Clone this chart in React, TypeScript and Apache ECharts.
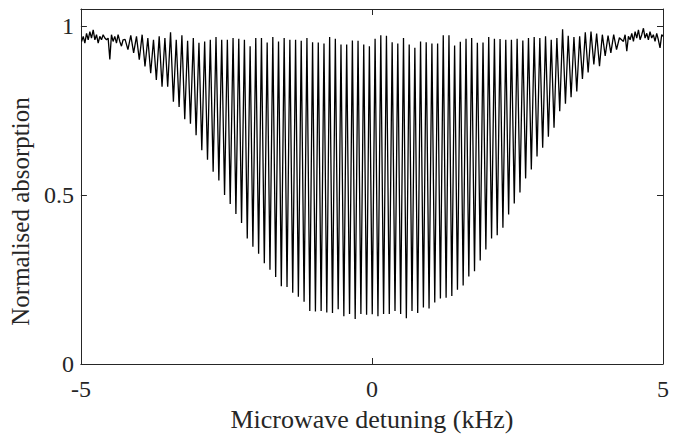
import React, { useEffect, useRef } from "react";
import * as echarts from "echarts";

// Axis ticks
const xTicks = [-5, 0, 5];
const yTicks = [0, 0.5, 1];

// Noisy baseline left of the comb (kHz, normalised absorption)
const noiseLeftX = [-4.988, -4.96, -4.932, -4.903, -4.875, -4.846, -4.818, -4.789, -4.76, -4.732, -4.703, -4.675, -4.646, -4.618, -4.589, -4.56, -4.532, -4.503, -4.475, -4.447, -4.418, -4.389, -4.361, -4.332, -4.303, -4.275];
const noiseLeftY = [0.954, 0.969, 0.949, 0.978, 0.959, 0.983, 0.964, 0.988, 0.959, 0.974, 0.949, 0.969, 0.959, 0.974, 0.964, 0.959, 0.964, 0.901, 0.974, 0.954, 0.969, 0.949, 0.974, 0.954, 0.94, 0.959];

// Comb maxima (between dips)
const peakX = [-4.241, -4.143, -4.045, -3.948, -3.85, -3.753, -3.655, -3.557, -3.46, -3.362, -3.265, -3.167, -3.069, -2.972, -2.874, -2.777, -2.679, -2.581, -2.484, -2.386, -2.288, -2.191, -2.093, -1.996, -1.898, -1.8, -1.703, -1.605, -1.508, -1.41, -1.312, -1.215, -1.117, -1.02, -0.922, -0.824, -0.727, -0.629, -0.532, -0.434, -0.336, -0.239, -0.141, -0.044, 0.054, 0.152, 0.249, 0.347, 0.444, 0.542, 0.64, 0.737, 0.835, 0.932, 1.03, 1.128, 1.225, 1.323, 1.42, 1.518, 1.616, 1.713, 1.811, 1.908, 2.006, 2.104, 2.201, 2.299, 2.396, 2.494, 2.592, 2.689, 2.787, 2.884, 2.982, 3.08, 3.177, 3.275, 3.372, 3.47, 3.568, 3.665, 3.763, 3.86, 3.958, 4.056, 4.153, 4.251];
const peakY = [0.96, 0.972, 0.969, 0.974, 0.964, 0.959, 0.969, 0.964, 0.981, 0.959, 0.972, 0.956, 0.964, 0.95, 0.954, 0.959, 0.967, 0.959, 0.959, 0.964, 0.962, 0.959, 0.94, 0.964, 0.964, 0.951, 0.967, 0.954, 0.964, 0.959, 0.959, 0.956, 0.964, 0.952, 0.951, 0.948, 0.967, 0.962, 0.945, 0.945, 0.957, 0.956, 0.945, 0.94, 0.962, 0.972, 0.971, 0.952, 0.948, 0.964, 0.945, 0.935, 0.954, 0.952, 0.948, 0.948, 0.972, 0.972, 0.942, 0.953, 0.962, 0.964, 0.95, 0.951, 0.967, 0.962, 0.961, 0.959, 0.959, 0.962, 0.957, 0.964, 0.967, 0.964, 0.969, 0.959, 0.964, 0.99, 0.971, 0.967, 0.969, 0.981, 0.983, 0.977, 0.974, 0.971, 0.974, 0.965];

// Comb minima (dips)
const troughX = [-4.192, -4.094, -3.997, -3.899, -3.801, -3.704, -3.606, -3.509, -3.411, -3.313, -3.216, -3.118, -3.021, -2.923, -2.825, -2.728, -2.63, -2.532, -2.435, -2.337, -2.24, -2.142, -2.045, -1.947, -1.849, -1.752, -1.654, -1.557, -1.459, -1.361, -1.264, -1.166, -1.068, -0.971, -0.873, -0.776, -0.678, -0.58, -0.483, -0.385, -0.288, -0.19, -0.092, 0.005, 0.103, 0.2, 0.298, 0.396, 0.493, 0.591, 0.688, 0.786, 0.884, 0.981, 1.079, 1.176, 1.274, 1.372, 1.469, 1.567, 1.664, 1.762, 1.86, 1.957, 2.055, 2.152, 2.25, 2.348, 2.445, 2.543, 2.64, 2.738, 2.836, 2.933, 3.031, 3.128, 3.226, 3.324, 3.421, 3.519, 3.616, 3.714, 3.812, 3.909, 4.007, 4.104, 4.202];
const troughY = [0.93, 0.92, 0.9, 0.88, 0.86, 0.84, 0.82, 0.82, 0.776, 0.76, 0.724, 0.711, 0.677, 0.632, 0.604, 0.569, 0.543, 0.5, 0.473, 0.444, 0.417, 0.371, 0.347, 0.326, 0.298, 0.279, 0.257, 0.23, 0.228, 0.211, 0.199, 0.184, 0.157, 0.155, 0.157, 0.152, 0.151, 0.162, 0.141, 0.148, 0.133, 0.148, 0.146, 0.147, 0.141, 0.148, 0.148, 0.157, 0.148, 0.135, 0.157, 0.151, 0.167, 0.164, 0.182, 0.194, 0.196, 0.201, 0.22, 0.232, 0.259, 0.274, 0.306, 0.339, 0.371, 0.381, 0.403, 0.442, 0.475, 0.507, 0.549, 0.575, 0.614, 0.64, 0.672, 0.699, 0.748, 0.77, 0.789, 0.806, 0.843, 0.862, 0.886, 0.881, 0.911, 0.92, 0.93];

// Noisy baseline right of the comb
const noiseRightX = [4.32, 4.349, 4.378, 4.406, 4.435, 4.464, 4.492, 4.521, 4.549, 4.578, 4.606, 4.635, 4.664, 4.692, 4.721, 4.749, 4.777, 4.806, 4.834, 4.863, 4.892, 4.92, 4.949, 4.978, 5.0];
const noiseRightY = [0.954, 0.974, 0.925, 0.969, 0.959, 0.978, 0.954, 0.983, 0.964, 0.988, 0.959, 0.974, 0.993, 0.964, 0.978, 0.959, 0.983, 0.964, 0.974, 0.954, 0.978, 0.959, 0.935, 0.974, 0.969];

const FONT = "Liberation Serif";
const AXIS_COLOR = "#262626";

function buildData(): number[][] {
  const pts: number[][] = [];
  noiseLeftX.forEach((x, i) => pts.push([x, noiseLeftY[i]]));
  for (let i = 0; i < peakX.length; i++) {
    pts.push([peakX[i], peakY[i]]);
    if (i < troughX.length) pts.push([troughX[i], troughY[i]]);
  }
  noiseRightX.forEach((x, i) => pts.push([x, noiseRightY[i]]));
  return pts;
}

export default function App() {
  const ref = useRef<HTMLDivElement>(null);
  useEffect(() => {
    document.body.style.margin = "0";
    if (!ref.current) return;
    const chart = echarts.init(ref.current, null, { renderer: "svg" });
    const axisLine = { show: true, onZero: false, lineStyle: { color: AXIS_COLOR, width: 1 } };
    const axisTick = { show: true, inside: true, length: 6, lineStyle: { color: AXIS_COLOR, width: 1 } };
    const fmt = (ticks: number[]) => (v: number) =>
      ticks.some((t) => Math.abs(t - v) < 1e-9) ? String(v) : "";
    chart.setOption({
      animation: false,
      textStyle: { fontFamily: FONT },
      grid: { left: 79, right: 15, top: 9, bottom: 68, containLabel: false },
      xAxis: [
        {
          type: "value", min: -5, max: 5, interval: 5, position: "bottom",
          axisLine, axisTick, splitLine: { show: false },
          axisLabel: { color: AXIS_COLOR, fontSize: 24, fontFamily: FONT, margin: 13, formatter: fmt(xTicks) },
          name: "Microwave detuning (kHz)", nameLocation: "middle", nameGap: 42,
          nameTextStyle: { color: AXIS_COLOR, fontSize: 26, fontFamily: FONT },
        },
        {
          type: "value", min: -5, max: 5, interval: 5, position: "top",
          axisLine, axisTick, splitLine: { show: false }, axisLabel: { show: false },
        },
      ],
      yAxis: [
        {
          type: "value", min: 0, max: 1.05, interval: 0.5, position: "left",
          axisLine, axisTick, splitLine: { show: false },
          axisLabel: { color: AXIS_COLOR, fontSize: 24, fontFamily: FONT, margin: 7, formatter: fmt(yTicks) },
          name: "Normalised absorption", nameLocation: "middle", nameGap: 46,
          nameTextStyle: { color: AXIS_COLOR, fontSize: 25, fontFamily: FONT, padding: [0, 50, 0, 0] },
        },
        {
          type: "value", min: 0, max: 1.05, interval: 0.5, position: "right",
          axisLine, axisTick, splitLine: { show: false }, axisLabel: { show: false },
        },
      ],
      series: [
        {
          type: "line", xAxisIndex: 0, yAxisIndex: 0, data: buildData(),
          symbol: "none", showSymbol: false, silent: true,
          lineStyle: { color: "#000", width: 1.3 },
        },
      ],
    });
    return () => chart.dispose();
  }, []);
  return <div ref={ref} style={{ width: 678, height: 437 }} />;
}
